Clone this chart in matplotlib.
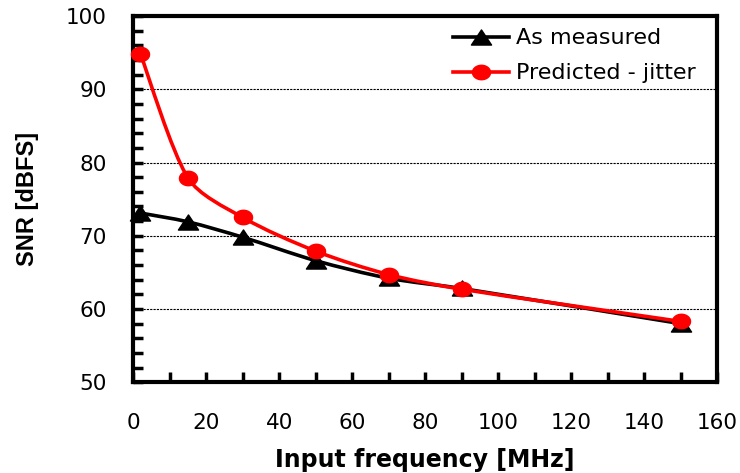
import numpy as np
import matplotlib
matplotlib.use("Agg")
import matplotlib.pyplot as plt
from matplotlib.path import Path
from matplotlib.patches import PathPatch
from matplotlib.lines import Line2D

plt.rcParams['font.family'] = ['DejaVu Sans']

freq = [2, 15, 30, 50, 70, 90, 150]
measured = [73.1, 71.9, 69.8, 66.6, 64.2, 62.8, 58.0]
predicted = [94.8, 77.9, 72.5, 67.9, 64.7, 62.7, 58.3]

x_ticks = [0, 20, 40, 60, 80, 100, 120, 140, 160]
y_ticks = [50, 60, 70, 80, 90, 100]

fig = plt.figure(figsize=(7.4, 4.73), dpi=100)
ax = fig.add_axes([0.18, 0.192, 0.789, 0.774])
ax.set_xlim(0, 160)
ax.set_ylim(50, 100)

# slightly wide marker shapes
t = np.linspace(0, 2 * np.pi, 60)
ellipse = Path(np.column_stack([np.cos(t), 0.8 * np.sin(t)]), closed=True)
tri = Path([(0, 0.75), (-1, -0.75), (1, -0.75), (0, 0.75)], closed=True)


def smooth_path(ax, xs, ys):
    pts = ax.transData.transform(np.column_stack([xs, ys]))
    n = len(pts)
    verts = [pts[0]]
    codes = [Path.MOVETO]
    for i in range(n - 1):
        p0 = pts[i - 1] if i > 0 else pts[i]
        p1 = pts[i]
        p2 = pts[i + 1]
        p3 = pts[i + 2] if i + 2 < n else pts[i + 1]
        seg = np.linalg.norm(p2 - p1)
        a1 = (p2 - p0) / 6.0
        a2 = (p3 - p1) / 6.0
        # limit control arm length relative to the segment
        for a in (a1, a2):
            L = np.linalg.norm(a)
            if L > 0.3 * seg:
                a *= 0.3 * seg / L
        c1 = p1 + a1
        c2 = p2 - a2
        verts += [c1, c2, p2]
        codes += [Path.CURVE4] * 3
    verts = ax.transData.inverted().transform(np.array(verts))
    return Path(verts, codes)


for ys, color, marker, ms, z in [(measured, 'black', tri, 14.5, 3),
                                  (predicted, '#ff0000', ellipse, 13, 4)]:
    p = smooth_path(ax, freq, ys)
    ax.add_patch(PathPatch(p, facecolor='none', edgecolor=color, lw=2.6,
                           zorder=z, capstyle='round', joinstyle='round'))
    ax.plot(freq, ys, linestyle='none', marker=marker, color=color,
            markersize=ms, zorder=z + 0.5, clip_on=False)

for yv in [60, 70, 80, 90]:
    ax.axhline(yv, color='black', lw=0.8, ls=(0, (2, 1)), zorder=1)

ax.set_xticks(x_ticks)
ax.set_yticks(y_ticks)
ax.set_xticks(np.arange(10, 160, 20), minor=True)
ax.set_yticks(np.arange(52, 100, 2), minor=True)
ax.tick_params(axis='both', which='both', direction='in', width=2.5,
               length=7, labelsize=15.5)
ax.tick_params(axis='x', which='both', pad=22, top=False)
ax.tick_params(axis='y', which='both', pad=19, right=False)
for s in ax.spines.values():
    s.set_linewidth(3)

ax.set_xlabel('Input frequency [MHz]', fontsize=17, fontweight='bold')
ax.xaxis.set_label_coords(0.5, -0.18)
ax.set_ylabel('SNR [dBFS]', fontsize=17, fontweight='bold',
              family='Liberation Sans')
ax.yaxis.set_label_coords(-0.162, 0.5)

handles = [Line2D([], [], color='black', lw=2.6, marker=tri, markersize=14.5),
           Line2D([], [], color='#ff0000', lw=2.6, marker=ellipse,
                  markersize=13)]
ax.legend(handles, ['As measured', 'Predicted - jitter'], loc='upper right',
          frameon=False, fontsize=16, handlelength=2.5, handletextpad=0.35,
          labelspacing=0.68, borderaxespad=0.15, bbox_to_anchor=(0.985, 1.0))

fig.savefig('out.png', dpi=100)
